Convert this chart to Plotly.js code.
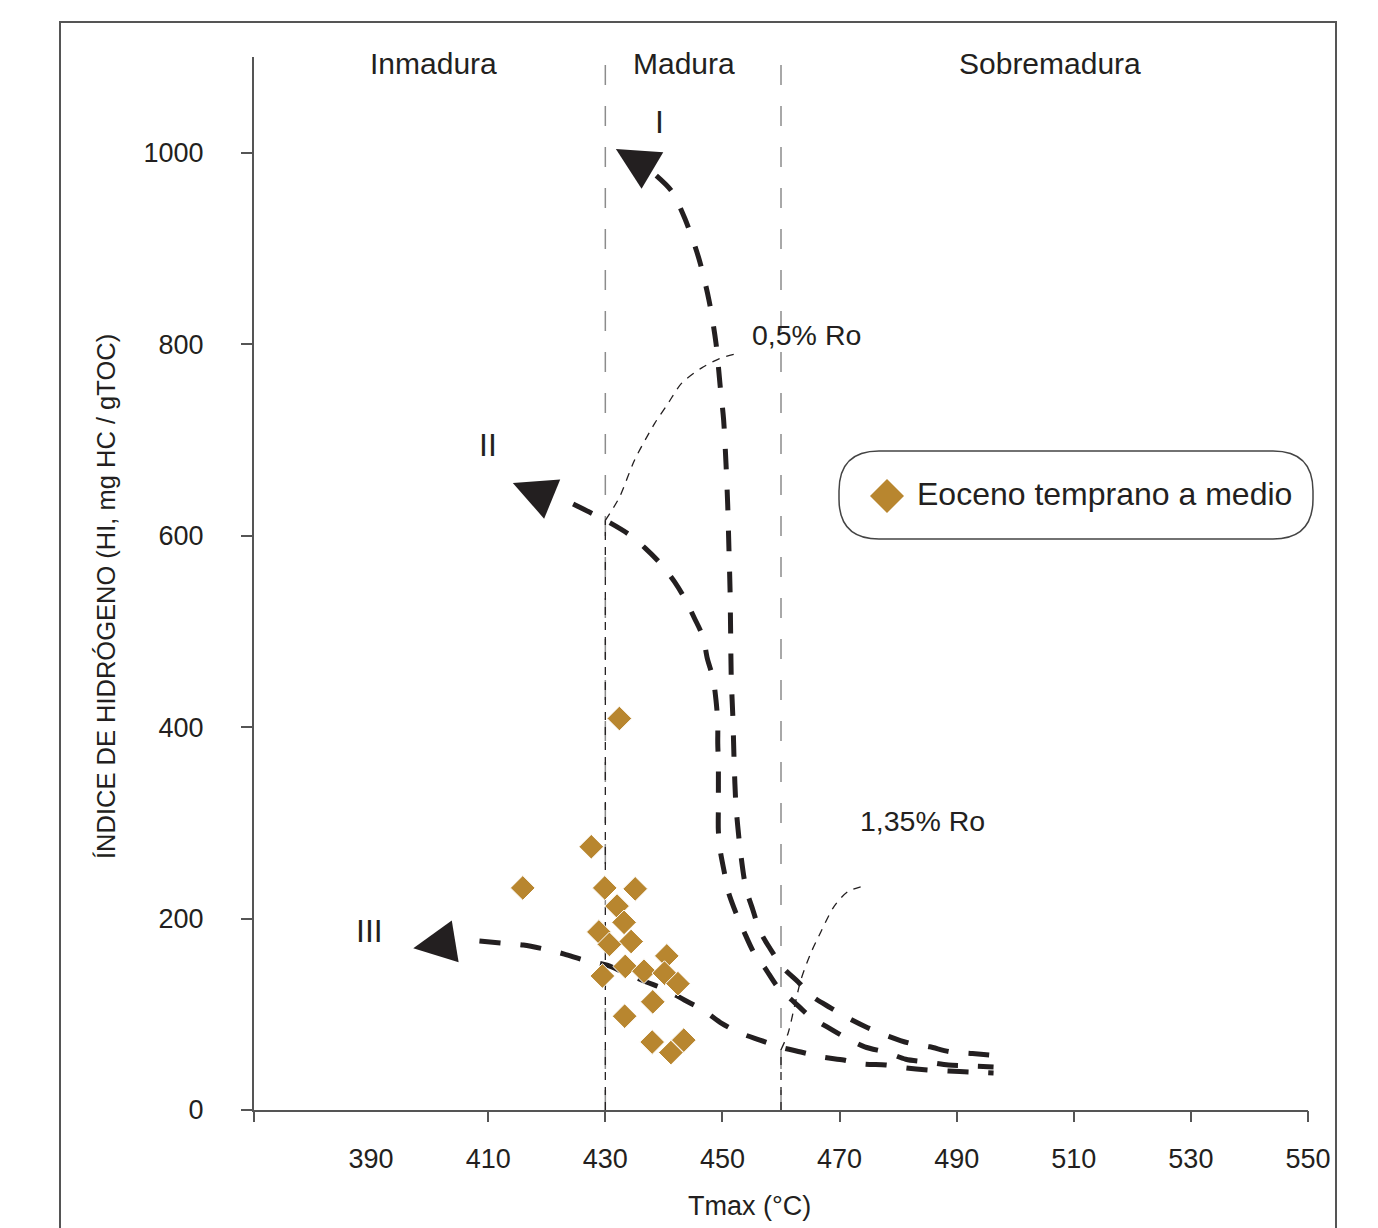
<!DOCTYPE html>
<html>
<head>
<meta charset="utf-8">
<script src="https://cdn.plot.ly/plotly-3.0.1.min.js"></script>
<style>html,body{margin:0;padding:0;background:#fff;}#chart{width:1378px;height:1228px;}</style>
</head>
<body>
<div id="chart"></div>
<script>
// ---- Data ----
const tmaxEoceno = [427.6, 415.9, 429.9, 435.1, 432.0, 433.2, 428.9, 434.4, 430.7, 440.5, 433.4, 436.6, 440.1, 429.5, 442.4, 438.1, 433.3, 438.0, 443.4, 441.2, 432.4];
const hiEoceno   = [275, 232, 232, 231, 213, 196, 186, 176, 173, 161, 150, 145, 143, 140, 132, 113, 98, 71, 73, 60, 409];

const tipoI_x = [438.7, 441.3, 443.6, 446.0, 447.7, 448.9, 449.6, 450.2, 450.6, 450.9, 451.1, 451.3, 451.4, 451.5, 451.8, 452.0, 452.3, 453.0, 454.0, 455.2, 456.4, 458.1, 460.3, 462.9, 465.5, 468.4, 471.8, 474.8, 478.4, 481.8, 485.4, 488.8, 492.7, 496.3];
const tipoI_y = [976, 960, 931, 889, 846, 801, 757, 721, 676, 632, 588, 543, 498, 453, 407, 363, 319, 274, 232, 209, 187, 169, 149, 134, 118, 107, 95, 86, 77, 70, 66, 61, 59, 57];

const tipoII_x = [424.5, 427.8, 430.9, 434.1, 436.8, 439.4, 441.8, 443.5, 445.2, 446.7, 447.4, 448.4, 448.9, 449.2, 449.2, 449.3, 449.3, 449.3, 449.6, 450.3, 451.0, 452.3, 453.7, 455.4, 457.3, 459.5, 462.2, 464.9, 467.8, 471.2, 474.3, 478.1, 481.3, 485.1, 488.6, 492.4, 496.3];
const tipoII_y = [633, 623, 613, 601, 587, 571, 552, 535, 514, 494, 472, 451, 428, 405, 383, 362, 316, 292, 272, 249, 228, 206, 186, 164, 148, 128, 113, 98, 87, 75, 66, 60, 53, 50, 47, 46, 45];

const tipoIII_x = [408.5, 412.3, 416.0, 419.6, 423.0, 426.4, 430.3, 433.4, 437.0, 440.1, 443.5, 446.7, 449.8, 453.0, 456.4, 459.8, 463.4, 467.0, 470.7, 474.1, 477.9, 481.3, 485.1, 488.6, 492.4, 496.3];
const tipoIII_y = [176.5, 174.4, 172.3, 168.1, 162.9, 156.6, 151.4, 143.1, 133.7, 126.3, 114.9, 104.4, 90.8, 80.4, 73.1, 65.8, 60.6, 55.3, 52.2, 48.0, 47.0, 43.9, 41.8, 40.7, 39.7, 38.6];

// arrow heads: [tipX, tipY, tailX, tailY]
const arrowI   = [431.8, 1004, 436.2, 988];
const arrowII  = [414.2, 655, 419.0, 643];
const arrowIII = [397.2, 169, 402.2, 174];

// iso-reflectance lines: vertical part + curved part
const ro05_vert_x = [430, 430];
const ro05_vert_y = [0, 616];
const ro05_x = [430, 432.4, 435.0, 438.4, 440.7, 443.0, 446.4, 449.5, 452.3];
const ro05_y = [616, 640, 679, 717, 738, 759, 775, 785, 790];
const ro135_vert_x = [460, 460];
const ro135_vert_y = [0, 63];
const ro135_x = [460, 461.2, 462.3, 463.4, 465.1, 466.8, 469.1, 471.4, 473.6];
const ro135_y = [63, 80, 108, 136, 164, 186, 213, 228, 233];

const zoneBounds = [430, 460];
const zoneLabels = ['Inmadura', 'Madura', 'Sobremadura'];
const zoneLabelX = [400.7, 443.5, 506.0];

const xTickLabels = [390, 410, 430, 450, 470, 490, 510, 530, 550];
const xTickMarks = [370, 410, 430, 450, 470, 490, 510, 530, 550];
const yTicks = [0, 200, 400, 600, 800, 1000];

const xTitle = 'Tmax (°C)';
const yTitle = 'ÍNDICE DE HIDRÓGENO (HI, mg HC / gTOC)';
const legendLabel = 'Eoceno temprano a medio';

// ---- Layout helpers ----
const FONT = '"Liberation Sans", Arial, sans-serif';
const INK = '#231f20';
const GOLD = '#b8862f';
const L = 254, T = 57, W = 1054, H = 1053;
const px = v => (v - L) / W;
const py = v => (T + H - v) / H;

const thick = {color: INK, width: 5, dash: '21px,20px', shape: 'spline', smoothing: 0.8};
const thin = {color: INK, width: 1.3, dash: '8px,7px', shape: 'spline', smoothing: 0.8};
const thinStraight = {color: INK, width: 1.3, dash: '8px,7px', shape: 'linear'};

const traces = [
  {x: ro05_vert_x, y: ro05_vert_y, mode: 'lines', line: thinStraight, hoverinfo: 'skip', showlegend: false},
  {x: ro05_x, y: ro05_y, mode: 'lines', line: thin, hoverinfo: 'skip', showlegend: false},
  {x: ro135_vert_x, y: ro135_vert_y, mode: 'lines', line: thinStraight, hoverinfo: 'skip', showlegend: false},
  {x: ro135_x, y: ro135_y, mode: 'lines', line: thin, hoverinfo: 'skip', showlegend: false},
  {x: tipoI_x, y: tipoI_y, mode: 'lines', line: thick, name: 'I', showlegend: false},
  {x: tipoII_x, y: tipoII_y, mode: 'lines', line: thick, name: 'II', showlegend: false},
  {x: tipoIII_x, y: tipoIII_y, mode: 'lines', line: thick, name: 'III', showlegend: false},
  {x: tmaxEoceno, y: hiEoceno, mode: 'markers', name: legendLabel, showlegend: false,
   marker: {symbol: 'diamond', size: 19, color: GOLD, line: {color: '#ffffff', width: 1}}},
  {x: [], y: [], xaxis: 'x2', showlegend: false, hoverinfo: 'skip'}
];

const shapes = [];
// outer frame
shapes.push({type: 'rect', xref: 'paper', yref: 'paper', x0: px(60), x1: px(1336), y0: py(1245), y1: py(22),
  line: {color: '#555555', width: 2}, fillcolor: 'rgba(0,0,0,0)'});
// zone boundaries
zoneBounds.forEach(b => shapes.push({type: 'line', xref: 'x', yref: 'y', x0: b, x1: b, y0: 0, y1: 1100, layer: 'below',
  line: {color: '#8c8c8c', width: 1.5, dash: '20px,21px'}}));
// legend rounded box + symbol
(function(){
  const x0 = px(839), x1 = px(1313), y0 = py(539), y1 = py(451);
  const rx = 40 / W, ry = 40 / H;
  const p = `M${x0+rx},${y1} L${x1-rx},${y1} Q${x1},${y1} ${x1},${y1-ry} L${x1},${y0+ry} Q${x1},${y0} ${x1-rx},${y0} ` +
            `L${x0+rx},${y0} Q${x0},${y0} ${x0},${y0+ry} L${x0},${y1-ry} Q${x0},${y1} ${x0+rx},${y1} Z`;
  shapes.push({type: 'path', xref: 'paper', yref: 'paper', path: p, line: {color: '#444444', width: 1.5}, fillcolor: 'rgba(255,255,255,0)'});
  const cx = 887, cy = 496, r = 17;
  const d = `M${px(cx)},${py(cy - r)} L${px(cx + r)},${py(cy)} L${px(cx)},${py(cy + r)} L${px(cx - r)},${py(cy)} Z`;
  shapes.push({type: 'path', xref: 'paper', yref: 'paper', path: d, line: {width: 0}, fillcolor: GOLD});
})();

const annotations = [];
zoneLabels.forEach((t, i) => annotations.push({x: zoneLabelX[i], y: 1093, xref: 'x', yref: 'y', text: t, showarrow: false,
  font: {family: FONT, size: 30, color: INK}}));
[['I', 439.2, 1032, 32], ['II', 409.9, 695, 32], ['III', 389.8, 187, 32], ['0,5% Ro', 464.4, 810, 28.5], ['1,35% Ro', 484.2, 302, 28.5]].forEach(a =>
  annotations.push({x: a[1], y: a[2], xref: 'x', yref: 'y', text: a[0], showarrow: false, font: {family: FONT, size: a[3], color: INK}}));
[arrowI, arrowII, arrowIII].forEach(a => annotations.push({x: a[0], y: a[1], ax: a[2], ay: a[3], xref: 'x', yref: 'y', axref: 'x', ayref: 'y',
  text: '', showarrow: true, arrowhead: 2, arrowsize: 1.7, arrowwidth: 5, arrowcolor: INK}));
annotations.push({x: px(915), y: py(494), xref: 'paper', yref: 'paper', xanchor: 'left', yanchor: 'middle', text: legendLabel,
  showarrow: false, font: {family: FONT, size: 32, color: INK}});
// axis titles
annotations.push({x: px(749), y: py(1206), xref: 'paper', yref: 'paper', xanchor: 'center', yanchor: 'middle', text: xTitle,
  showarrow: false, font: {family: FONT, size: 27, color: INK}});
annotations.push({x: px(106), y: py(597), xref: 'paper', yref: 'paper', xanchor: 'center', yanchor: 'middle', text: yTitle,
  textangle: -90, showarrow: false, font: {family: FONT, size: 25.5, color: INK}});

const layout = {
  width: 1378, height: 1228,
  margin: {l: L, r: 1378 - L - W, t: T, b: 1228 - T - H},
  paper_bgcolor: '#ffffff', plot_bgcolor: '#ffffff',
  font: {family: FONT, color: INK},
  showlegend: false,
  xaxis: {range: [370, 550], tickvals: xTickLabels, ticks: '', showgrid: false, zeroline: false,
    showline: true, linecolor: '#555555', linewidth: 2, tickfont: {size: 27, color: INK}, ticklabelstandoff: 24},
  xaxis2: {range: [370, 550], overlaying: 'x', anchor: 'y', side: 'bottom', tickvals: xTickMarks, ticks: 'outside', ticklen: 11,
    tickwidth: 2, tickcolor: '#555555', showticklabels: false, showgrid: false, zeroline: false, showline: false},
  yaxis: {range: [0, 1100], tickvals: yTicks, ticks: 'outside', ticklen: 11, tickwidth: 2, tickcolor: '#555555',
    showgrid: false, zeroline: false, showline: true, linecolor: '#555555', linewidth: 2,
    tickfont: {size: 27, color: INK}, ticklabelstandoff: 32},
  shapes: shapes,
  annotations: annotations
};

Plotly.newPlot('chart', traces, layout, {staticPlot: true});
</script>
</body>
</html>
